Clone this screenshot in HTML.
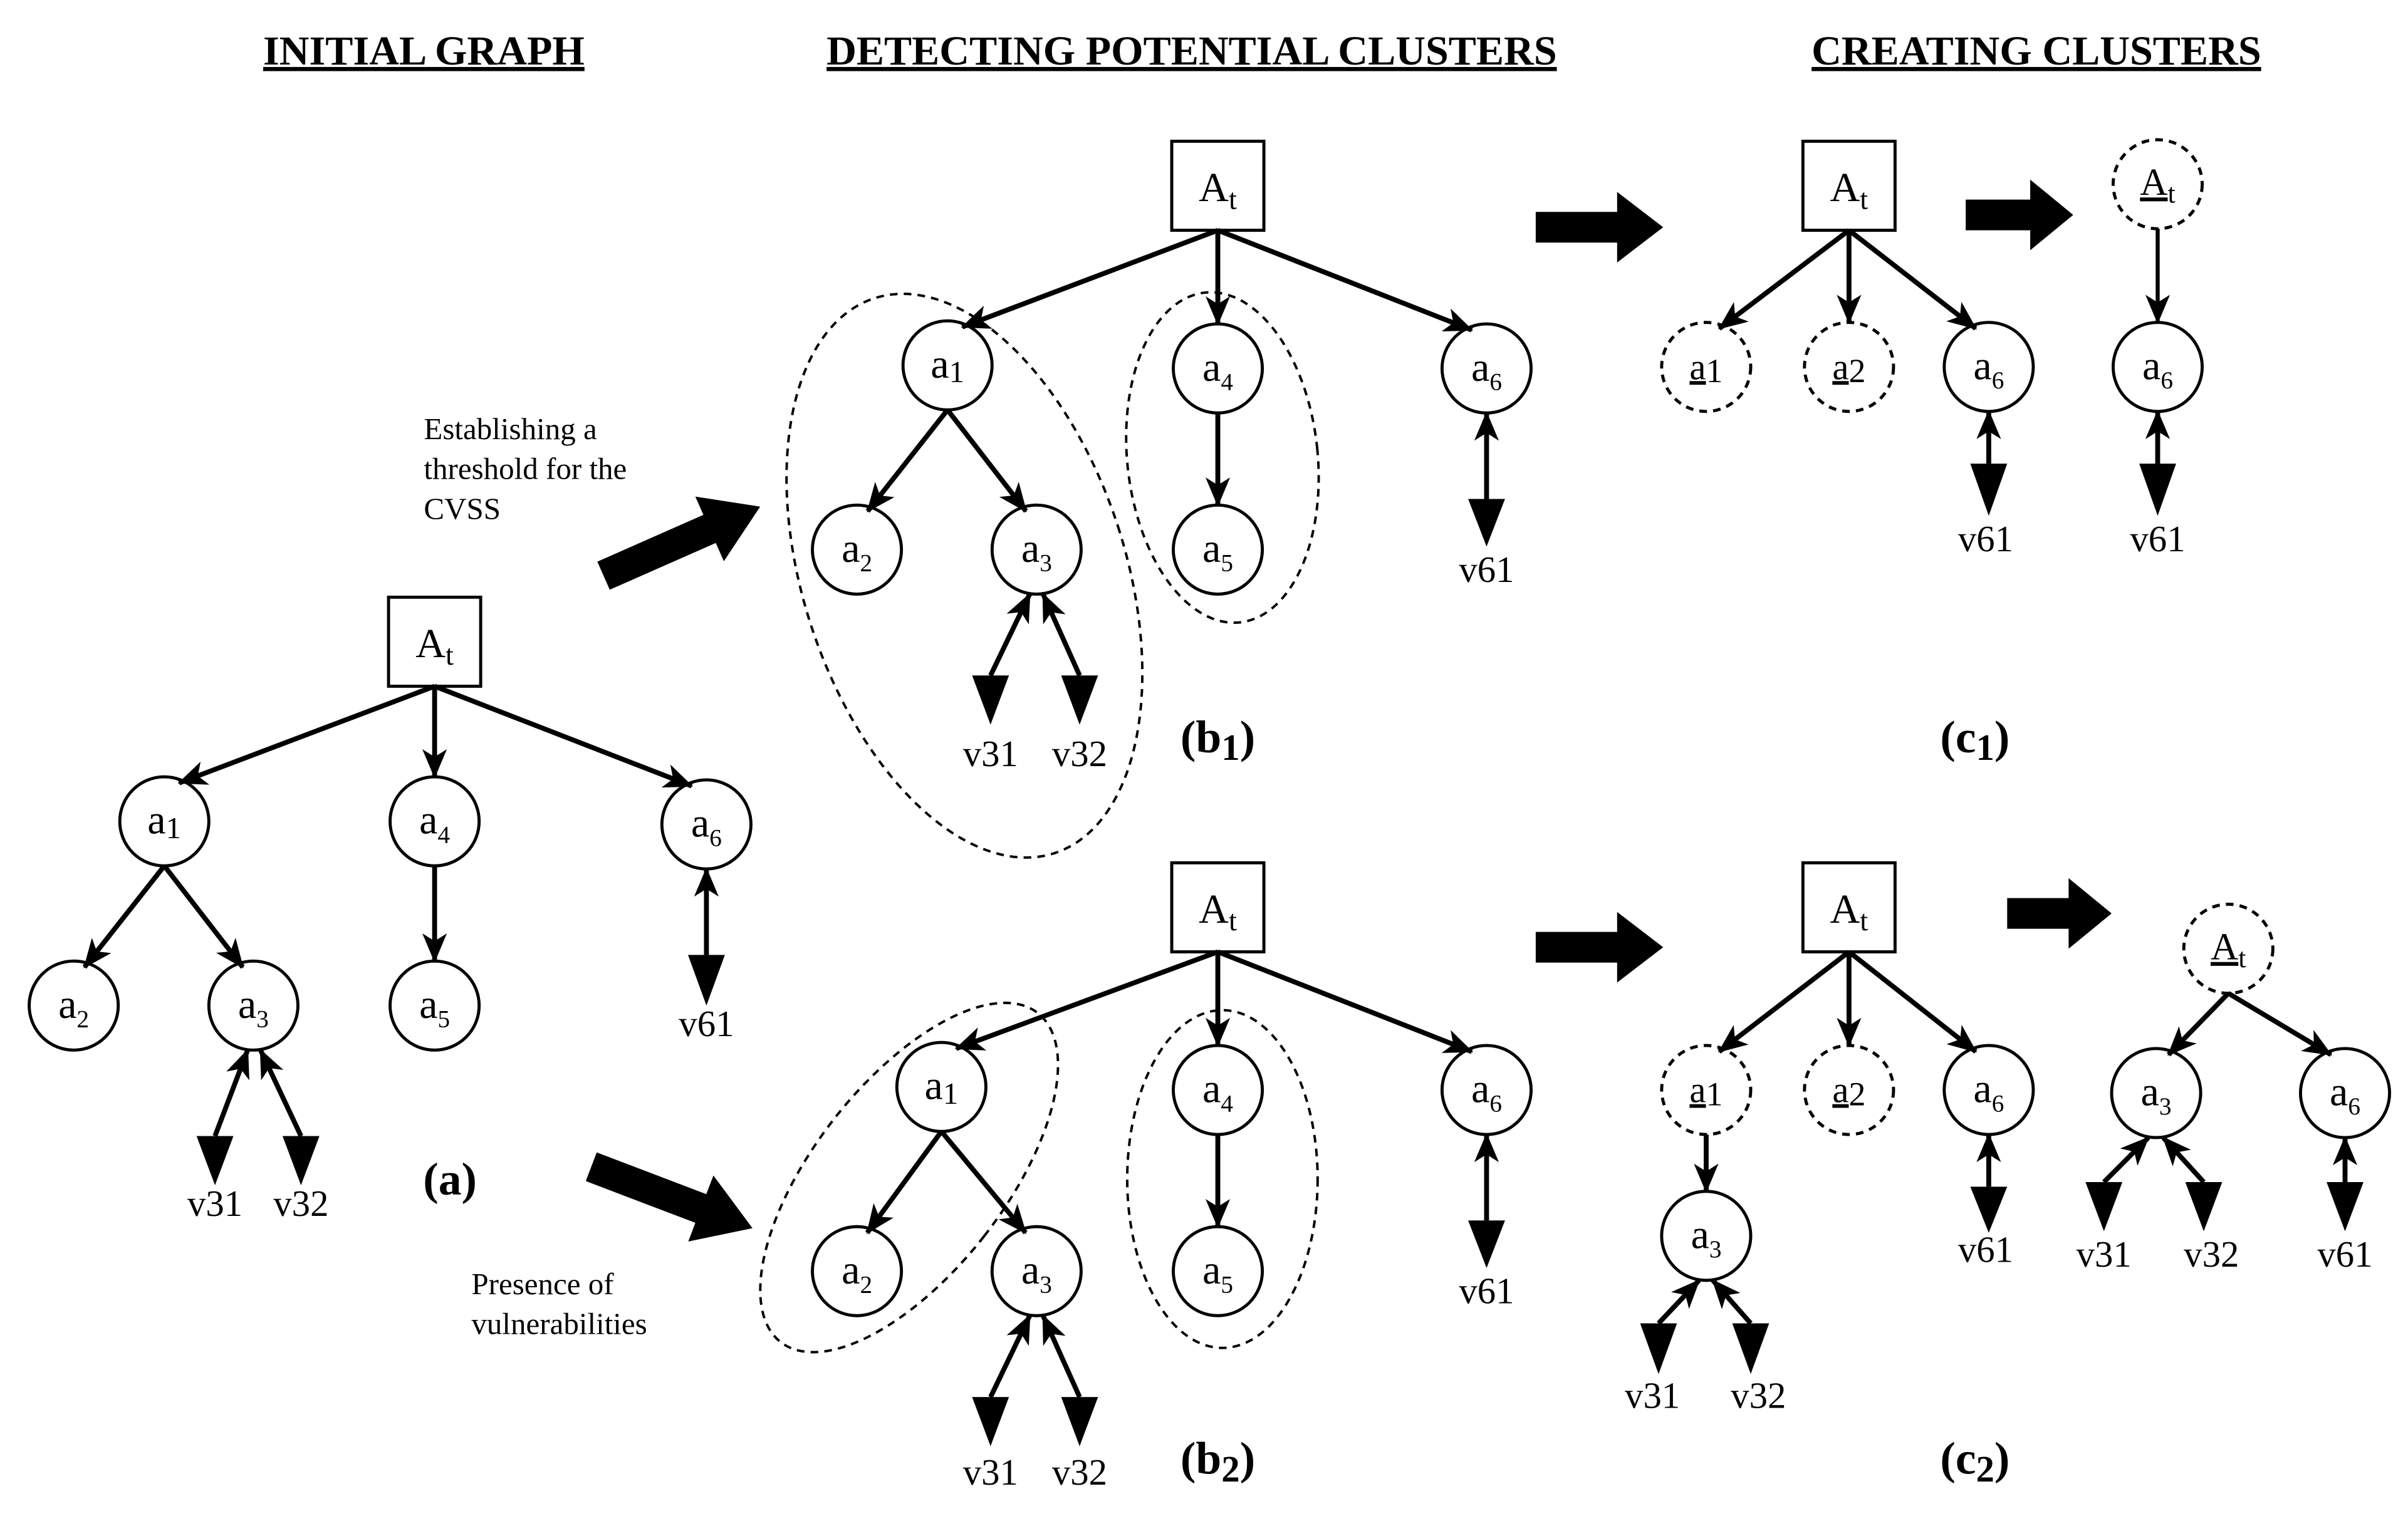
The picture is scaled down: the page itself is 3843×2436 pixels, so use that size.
<!DOCTYPE html>
<html><head><meta charset="utf-8"><style>
html,body{margin:0;padding:0;background:#fff;}
svg{display:block;}
svg text{font-family:"Liberation Serif","Times New Roman","DejaVu Serif",serif;fill:#000;}
</style></head><body>
<svg id="s" width="3843" height="2436" viewBox="0 0 1568 994" preserveAspectRatio="none" xmlns="http://www.w3.org/2000/svg" font-family="Liberation Serif, DejaVu Serif, serif">
<defs>
<marker id="ah" markerUnits="userSpaceOnUse" markerWidth="20" markerHeight="18" refX="18" refY="8" orient="auto">
<path d="M0,0 L19,8 L0,16 L5,8 z" fill="#000"/>
</marker>
</defs>
<g id="shapes"></g>
<g font-weight="bold" font-size="27" text-anchor="middle" text-decoration="underline">
<text x="276" y="42">INITIAL GRAPH</text>
<text x="776" y="42">DETECTING POTENTIAL CLUSTERS</text>
<text x="1326" y="42">CREATING CLUSTERS</text>
</g>
<g font-size="20">
<text x="276" y="286">Establishing a</text>
<text x="276" y="312">threshold for the</text>
<text x="276" y="338">CVSS</text>
<text x="307" y="843">Presence of</text>
<text x="307" y="869">vulnerabilities</text>
</g>
<g font-weight="bold" font-size="30" text-anchor="middle">
<text x="293" y="778">(a)</text>
<text x="793" y="490">(b<tspan font-size="24" dy="5">1</tspan><tspan dy="-5">)</tspan></text>
<text x="793" y="960">(b<tspan font-size="24" dy="5">2</tspan><tspan dy="-5">)</tspan></text>
<text x="1286" y="490">(c<tspan font-size="24" dy="5">1</tspan><tspan dy="-5">)</tspan></text>
<text x="1286" y="960">(c<tspan font-size="24" dy="5">2</tspan><tspan dy="-5">)</tspan></text>
</g>
<g id="labels" font-size="27" text-anchor="middle">
<text x="283" y="428">A<tspan font-size="19" dy="5">t</tspan></text>
<text x="107" y="543">a<tspan font-size="20" dy="3">1</tspan></text>
<text x="283" y="543">a<tspan font-size="16" dy="6">4</tspan></text>
<text x="460" y="545">a<tspan font-size="16" dy="6">6</tspan></text>
<text x="48" y="663">a<tspan font-size="16" dy="6">2</tspan></text>
<text x="165" y="663">a<tspan font-size="16" dy="6">3</tspan></text>
<text x="283" y="663">a<tspan font-size="16" dy="6">5</tspan></text>
<text x="460" y="675" font-size="24">v61</text>
<text x="140" y="792" font-size="24">v31</text>
<text x="196" y="792" font-size="24">v32</text>
<text x="793" y="131">A<tspan font-size="19" dy="5">t</tspan></text>
<text x="617" y="246">a<tspan font-size="20" dy="3">1</tspan></text>
<text x="793" y="248">a<tspan font-size="16" dy="6">4</tspan></text>
<text x="968" y="248">a<tspan font-size="16" dy="6">6</tspan></text>
<text x="558" y="366">a<tspan font-size="16" dy="6">2</tspan></text>
<text x="675" y="366">a<tspan font-size="16" dy="6">3</tspan></text>
<text x="793" y="366">a<tspan font-size="16" dy="6">5</tspan></text>
<text x="968" y="379" font-size="24">v61</text>
<text x="645" y="499" font-size="24">v31</text>
<text x="703" y="499" font-size="24">v32</text>
<text x="793" y="601">A<tspan font-size="19" dy="5">t</tspan></text>
<text x="613" y="716">a<tspan font-size="20" dy="3">1</tspan></text>
<text x="793" y="718">a<tspan font-size="16" dy="6">4</tspan></text>
<text x="968" y="718">a<tspan font-size="16" dy="6">6</tspan></text>
<text x="558" y="836">a<tspan font-size="16" dy="6">2</tspan></text>
<text x="675" y="836">a<tspan font-size="16" dy="6">3</tspan></text>
<text x="793" y="836">a<tspan font-size="16" dy="6">5</tspan></text>
<text x="968" y="849" font-size="24">v61</text>
<text x="645" y="967" font-size="24">v31</text>
<text x="703" y="967" font-size="24">v32</text>
<text x="1204" y="131">A<tspan font-size="19" dy="5">t</tspan></text>
<text x="1111" y="247" font-size="24"><tspan text-decoration="underline">a</tspan><tspan font-size="22" dy="2">1</tspan></text>
<text x="1204" y="247" font-size="24"><tspan text-decoration="underline">a</tspan><tspan font-size="22" dy="2">2</tspan></text>
<text x="1295" y="247">a<tspan font-size="16" dy="6">6</tspan></text>
<text x="1293" y="359" font-size="24">v61</text>
<text x="1405" y="127" font-size="25"><tspan text-decoration="underline">A</tspan><tspan font-size="18" dy="5">t</tspan></text>
<text x="1405" y="247">a<tspan font-size="16" dy="6">6</tspan></text>
<text x="1405" y="359" font-size="24">v61</text>
<text x="1204" y="601">A<tspan font-size="19" dy="5">t</tspan></text>
<text x="1111" y="718" font-size="24"><tspan text-decoration="underline">a</tspan><tspan font-size="22" dy="2">1</tspan></text>
<text x="1204" y="718" font-size="24"><tspan text-decoration="underline">a</tspan><tspan font-size="22" dy="2">2</tspan></text>
<text x="1295" y="718">a<tspan font-size="16" dy="6">6</tspan></text>
<text x="1111" y="813">a<tspan font-size="16" dy="6">3</tspan></text>
<text x="1076" y="917" font-size="24">v31</text>
<text x="1145" y="917" font-size="24">v32</text>
<text x="1293" y="822" font-size="24">v61</text>
<text x="1451" y="625" font-size="25"><tspan text-decoration="underline">A</tspan><tspan font-size="18" dy="5">t</tspan></text>
<text x="1404" y="720">a<tspan font-size="16" dy="6">3</tspan></text>
<text x="1527" y="720">a<tspan font-size="16" dy="6">6</tspan></text>
<text x="1370" y="825" font-size="24">v31</text>
<text x="1440" y="825" font-size="24">v32</text>
<text x="1527" y="825" font-size="24">v61</text>
</g>
</svg>
<script>
var NS="http://www.w3.org/2000/svg",G=document.getElementById("shapes");
function el(t,a){var e=document.createElementNS(NS,t);for(var k in a)e.setAttribute(k,a[k]);G.appendChild(e);return e;}
var R=29;
function circ(x,y,d){el("circle",{cx:x,cy:y,r:R,fill:"none",stroke:"#000","stroke-width":2,"stroke-dasharray":d?"5,4":"none"});return {x:x,y:y,c:1};}
function box(x,y){el("rect",{x:x-30,y:y-29,width:60,height:58,fill:"none",stroke:"#000","stroke-width":2});return {x:x,y:y,c:0};}
function edge(p,q,w){
 var sx=p.x,sy=p.y+29,ex=q.x,ey=q.y-R;
 if(Math.abs(q.x-p.x)>20){ // slight offset into circle top side
  var dx=ex-sx,dy=ey-sy,L=Math.hypot(dx,dy);
  ex=q.x-dx/L*R*0.35;ey=q.y-R+4;
 }
 el("line",{x1:sx,y1:sy,x2:ex,y2:ey,stroke:"#000","stroke-width":w||3.2,"marker-end":"url(#ah)"});
}
function vul(n,x,top,apex){
 el("line",{x1:x,y1:top,x2:n.x+(x-n.x)*0.15,y2:n.y+R,stroke:"#000","stroke-width":3.2,"marker-end":"url(#ah)"});
 el("polygon",{points:(x-12)+","+top+" "+(x+12)+","+top+" "+x+","+apex,fill:"#000"});
}
function bigArrow(x1,y1,x2,y2,sw,hw,hl){
 var dx=x2-x1,dy=y2-y1,L=Math.hypot(dx,dy),ux=dx/L,uy=dy/L,px=-uy,py=ux;
 var bx=x2-ux*hl,by=y2-uy*hl;
 var pts=[[x1+px*sw,y1+py*sw],[bx+px*sw,by+py*sw],[bx+px*hw,by+py*hw],[x2,y2],[bx-px*hw,by-py*hw],[bx-px*sw,by-py*sw],[x1-px*sw,y1-py*sw]];
 el("polygon",{points:pts.map(function(p){return p.join(",")}).join(" "),fill:"#000"});
}
(function(){
 var A=box(283,418),a1=circ(107,535),a4=circ(283,535),a6=circ(460,537),a2=circ(48,655),a3=circ(165,655),a5=circ(283,655);
 edge(A,a1);edge(A,a4);edge(A,a6);edge(a1,a2);edge(a1,a3);edge(a4,a5);
 vul(a6,460,622,655);vul(a3,140,740,772);vul(a3,196,740,772);
})();
[0,470].forEach(function(o,i){
 var A=box(793,121+o),a1=circ(i?613:617,238+o),a4=circ(793,240+o),a6=circ(968,240+o),a2=circ(558,358+o),a3=circ(675,358+o),a5=circ(793,358+o);
 edge(A,a1);edge(A,a4);edge(A,a6);edge(a1,a2);edge(a1,a3);edge(a4,a5);
 vul(a6,968,325+o,356+o);vul(a3,645,440+o,472+o);vul(a3,703,440+o,472+o);
});
el("ellipse",{cx:628,cy:375,rx:105,ry:190,transform:"rotate(-18 628 375)",fill:"none",stroke:"#000","stroke-width":1.6,"stroke-dasharray":"5,4"});
el("ellipse",{cx:796,cy:298,rx:62,ry:108,transform:"rotate(-6 796 298)",fill:"none",stroke:"#000","stroke-width":1.6,"stroke-dasharray":"5,4"});
el("ellipse",{cx:592,cy:767,rx:62,ry:136,transform:"rotate(38 592 767)",fill:"none",stroke:"#000","stroke-width":1.6,"stroke-dasharray":"5,4"});
el("ellipse",{cx:796,cy:768,rx:62,ry:110,fill:"none",stroke:"#000","stroke-width":1.6,"stroke-dasharray":"5,4"});
(function(){
 var A=box(1204,121),a1=circ(1111,239,1),a2=circ(1204,239,1),a6=circ(1295,239);
 edge(A,a1);edge(A,a2);edge(A,a6);vul(a6,1295,302,336);
 var B=circ(1405,120,1),b6=circ(1405,239);edge(B,b6,2.6);vul(b6,1405,302,336);
})();
(function(){
 var A=box(1204,591),a1=circ(1111,710,1),a2=circ(1204,710,1),a6=circ(1295,710),a3=circ(1111,805);
 edge(A,a1);edge(A,a2);edge(A,a6);edge(a1,a3);vul(a6,1295,773,803);vul(a3,1080,862,895);vul(a3,1140,862,895);
 var B=circ(1451,618,1),b3=circ(1404,712),b6=circ(1527,712);
 edge(B,b3);edge(B,b6);vul(b3,1370,770,802);vul(b3,1435,770,802);vul(b6,1527,770,802);
})();
bigArrow(393,375,495,330,10,23,36);
bigArrow(385,760,490,800,10,23,36);
bigArrow(1000,148,1083,148,10,23,30);
bigArrow(1280,140,1350,140,10,23,28);
bigArrow(1000,617,1083,617,10,23,30);
bigArrow(1307,595,1375,595,10,23,28);
</script>
</body></html>
